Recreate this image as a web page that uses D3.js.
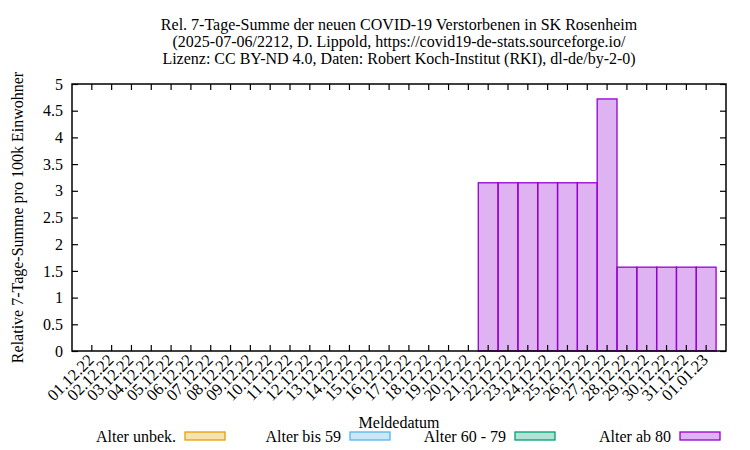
<!DOCTYPE html>
<html>
<head>
<meta charset="utf-8">
<script src="https://cdn.jsdelivr.net/npm/d3@7"></script>
<style>
  body { margin: 0; background: #fff; }
  svg text { font-family: "Liberation Serif", "Times New Roman", serif; font-size: 16px; fill: #000; }
</style>
</head>
<body>
<div id="chart"></div>
<script>
// data
let dates = ["01.12.22","02.12.22","03.12.22","04.12.22","05.12.22","06.12.22","07.12.22","08.12.22",
    "09.12.22","10.12.22","11.12.22","12.12.22","13.12.22","14.12.22","15.12.22","16.12.22",
    "17.12.22","18.12.22","19.12.22","20.12.22","21.12.22","22.12.22","23.12.22","24.12.22",
    "25.12.22","26.12.22","27.12.22","28.12.22","29.12.22","30.12.22","31.12.22","01.01.23"]
let alterUnbek = [0,0,0,0,0,0,0,0,0,0,0,0,0,0,0,0,0,0,0,0,0,0,0,0,0,0,0,0,0,0,0,0]
let alterBis59 = [0,0,0,0,0,0,0,0,0,0,0,0,0,0,0,0,0,0,0,0,0,0,0,0,0,0,0,0,0,0,0,0]
let alter60bis79 = [0,0,0,0,0,0,0,0,0,0,0,0,0,0,0,0,0,0,0,0,0,0,0,0,0,0,0,0,0,0,0,0]
let alterAb80 = [0,0,0,0,0,0,0,0,0,0,0,0,0,0,0,0,0,0,0,0,
    3.15,3.15,3.15,3.15,3.15,3.15,4.72,1.57,1.57,1.57,1.57,1.57]
let seriesNames = ["Alter unbek.", "Alter bis 59", "Alter 60 - 79", "Alter ab 80"]
let seriesColors = ["#e69f00", "#56b4e9", "#009e73", "#9400d3"]
let yTicks = [0,0.5,1,1.5,2,2.5,3,3.5,4,4.5,5]
let titleLines = ["Rel. 7-Tage-Summe der neuen COVID-19 Verstorbenen in SK Rosenheim",
    "(2025-07-06/2212, D. Lippold, https://covid19-de-stats.sourceforge.io/",
    "Lizenz: CC BY-ND 4.0, Daten: Robert Koch-Institut (RKI), dl-de/by-2-0)"]

let W = 750, H = 450
let PLOT = {LEFT: 72, RIGHT: 726, TOP: 84, BOTTOM: 351}

let svg = d3.select("#chart").append("svg")
    .attr("width", W)
    .attr("height", H)

let x = d3.scaleBand()
    .domain(dates)
    .range([PLOT.LEFT, PLOT.RIGHT])
    .paddingInner(0)
    .paddingOuter(0.5)

let y = d3.scaleLinear()
    .domain([0, 5])
    .range([PLOT.BOTTOM, PLOT.TOP])

// stacked boxes
let rows = dates.map((d, i) => ({date: d, s0: alterUnbek[i], s1: alterBis59[i], s2: alter60bis79[i], s3: alterAb80[i]}))
let stack = d3.stack().keys(["s0", "s1", "s2", "s3"])(rows)

stack.forEach((layer, k) => {
    svg.append("g")
        .selectAll("rect")
        .data(layer.filter(d => d[1] - d[0] > 0))
        .enter().append("rect")
        .attr("x", d => x(d.data.date))
        .attr("y", d => y(d[1]))
        .attr("width", x.bandwidth())
        .attr("height", d => y(d[0]) - y(d[1]))
        .attr("fill", seriesColors[k])
        .attr("fill-opacity", 0.3)
        .attr("stroke", seriesColors[k])
        .attr("stroke-width", 1.3)
})

// axes, ticks pointing inwards on all four sides
let xAxisCall = d3.axisBottom(x).tickSize(-6).tickFormat("")
let xTopCall = d3.axisTop(x).tickSize(-6).tickFormat("")
let yAxisCall = d3.axisLeft(y).tickValues(yTicks).tickSize(-6).tickPadding(9).tickFormat(d => d)
let yRightCall = d3.axisRight(y).tickValues(yTicks).tickSize(-6).tickFormat("")

svg.append("g").attr("transform", `translate(0, ${PLOT.BOTTOM})`).call(xAxisCall)
svg.append("g").attr("transform", `translate(0, ${PLOT.TOP})`).call(xTopCall)
svg.append("g").attr("transform", `translate(${PLOT.LEFT}, 0)`).call(yAxisCall)
svg.append("g").attr("transform", `translate(${PLOT.RIGHT}, 0)`).call(yRightCall)

svg.selectAll(".domain").remove()
svg.selectAll(".tick line").attr("stroke", "#000").attr("stroke-width", 1.2)
svg.selectAll(".tick text").style("font-family", "Liberation Serif").style("font-size", "16px").attr("fill", "#000")

svg.append("rect")
    .attr("x", PLOT.LEFT)
    .attr("y", PLOT.TOP)
    .attr("width", PLOT.RIGHT - PLOT.LEFT)
    .attr("height", PLOT.BOTTOM - PLOT.TOP)
    .attr("fill", "none")
    .attr("stroke", "#000")
    .attr("stroke-width", 1.5)

// rotated date labels
svg.append("g")
    .selectAll("text")
    .data(dates)
    .enter().append("text")
    .attr("transform", d => `translate(${x(d) + x.bandwidth() / 2 + 3}, 361) rotate(-45)`)
    .attr("text-anchor", "end")
    .style("font-size", "16.5px")
    .text(d => d)

// title
svg.append("g")
    .selectAll("text")
    .data(titleLines)
    .enter().append("text")
    .attr("x", (PLOT.LEFT + PLOT.RIGHT) / 2)
    .attr("y", (d, i) => 30 + i * 17)
    .attr("text-anchor", "middle")
    .text(d => d)

// axis labels
svg.append("text")
    .attr("x", (PLOT.LEFT + PLOT.RIGHT) / 2)
    .attr("y", 428)
    .attr("text-anchor", "middle")
    .text("Meldedatum")

svg.append("text")
    .attr("transform", `translate(23, ${(PLOT.TOP + PLOT.BOTTOM) / 2}) rotate(-90)`)
    .attr("text-anchor", "middle")
    .text("Relative 7-Tage-Summe pro 100k Einwohner")

// legend
let legend = svg.append("g")
seriesNames.forEach((name, k) => {
    let bx = 185 + k * 165
    legend.append("rect")
        .attr("x", bx)
        .attr("y", 432)
        .attr("width", 40)
        .attr("height", 8)
        .attr("fill", seriesColors[k])
        .attr("fill-opacity", 0.3)
        .attr("stroke", seriesColors[k])
        .attr("stroke-width", 1.3)
    legend.append("text")
        .attr("x", bx - 9)
        .attr("y", 442)
        .attr("text-anchor", "end")
        .text(name)
})
</script>
</body>
</html>
